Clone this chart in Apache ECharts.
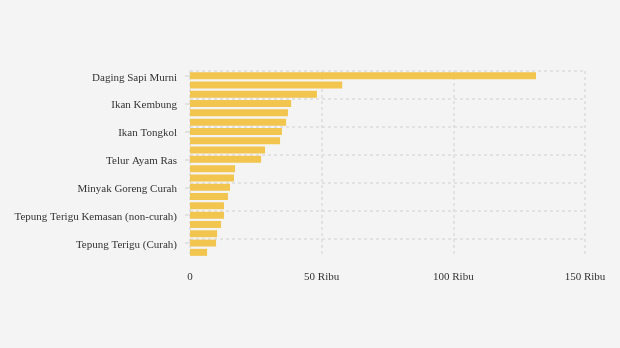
<!DOCTYPE html>
<html>
<head>
<meta charset="utf-8">
<script src="https://cdn.jsdelivr.net/npm/echarts@6/dist/echarts.min.js"></script>
<style>
html,body{margin:0;padding:0;background:#f4f4f4;}
#chart{width:620px;height:348px;}
</style>
</head>
<body>
<div id="chart"></div>
<script>
var categories = [
  "Daging Sapi Murni", "Cabai Rawit Merah", "Cabai Merah Keriting",
  "Ikan Kembung", "Daging Ayam Ras", "Bawang Merah",
  "Ikan Tongkol", "Bawang Putih", "Cabai Merah Besar",
  "Telur Ayam Ras", "Minyak Goreng Kemasan Premium", "Gula Pasir",
  "Minyak Goreng Curah", "Minyak Goreng Kemasan Sederhana", "Beras Kualitas Super",
  "Tepung Terigu Kemasan (non-curah)", "Beras Kualitas Medium", "Beras Kualitas Bawah",
  "Tepung Terigu (Curah)", "Garam Halus"
];
var values = [131.4, 57.8, 48.2, 38.4, 37.2, 36.5, 34.9, 34.2, 28.5, 27.0,
              17.1, 16.7, 15.2, 14.4, 12.9, 12.9, 11.8, 10.3, 9.9, 6.5];
var xTicks = [0, 50, 100, 150];
var xUnit = "Ribu";

var chart = echarts.init(document.getElementById('chart'), null, {renderer: 'canvas'});
var font = 'Liberation Serif';
chart.setOption({
  backgroundColor: '#f4f4f4',
  animation: false,
  grid: {left: 190, right: 35, top: 71, bottom: 91, containLabel: false},
  xAxis: {
    type: 'value',
    min: xTicks[0],
    max: xTicks[xTicks.length - 1],
    interval: xTicks[1] - xTicks[0],
    axisLine: {show: false},
    axisTick: {show: false},
    axisLabel: {
      margin: 15,
      color: '#333',
      fontFamily: font,
      fontSize: 11,
      formatter: function (v) { return v === 0 ? '0' : v + ' ' + xUnit; }
    },
    splitLine: {show: true, lineStyle: {color: '#dcdcdc', width: 1.5, type: [3, 3]}}
  },
  yAxis: {
    type: 'category',
    data: categories,
    inverse: true,
    axisLine: {show: false},
    axisTick: {show: true, alignWithLabel: true, interval: 2, length: 5, lineStyle: {color: '#dcdcdc', width: 1.5}},
    axisLabel: {
      interval: 2, margin: 13, color: '#333', fontFamily: font, fontSize: 11,
      formatter: function (v) { return '{a|' + v + '}'; },
      rich: {a: {fontFamily: font, fontSize: 11, color: '#333', padding: [4, 0, 0, 0]}}
    },
    splitLine: {show: true, interval: 2, showMaxLine: false, lineStyle: {color: '#dcdcdc', width: 1.5, type: [3, 3]}}
  },
  series: [{
    type: 'bar',
    data: values,
    barCategoryGap: '25%',
    itemStyle: {color: '#f2c54f'}
  }]
});
</script>
</body>
</html>
